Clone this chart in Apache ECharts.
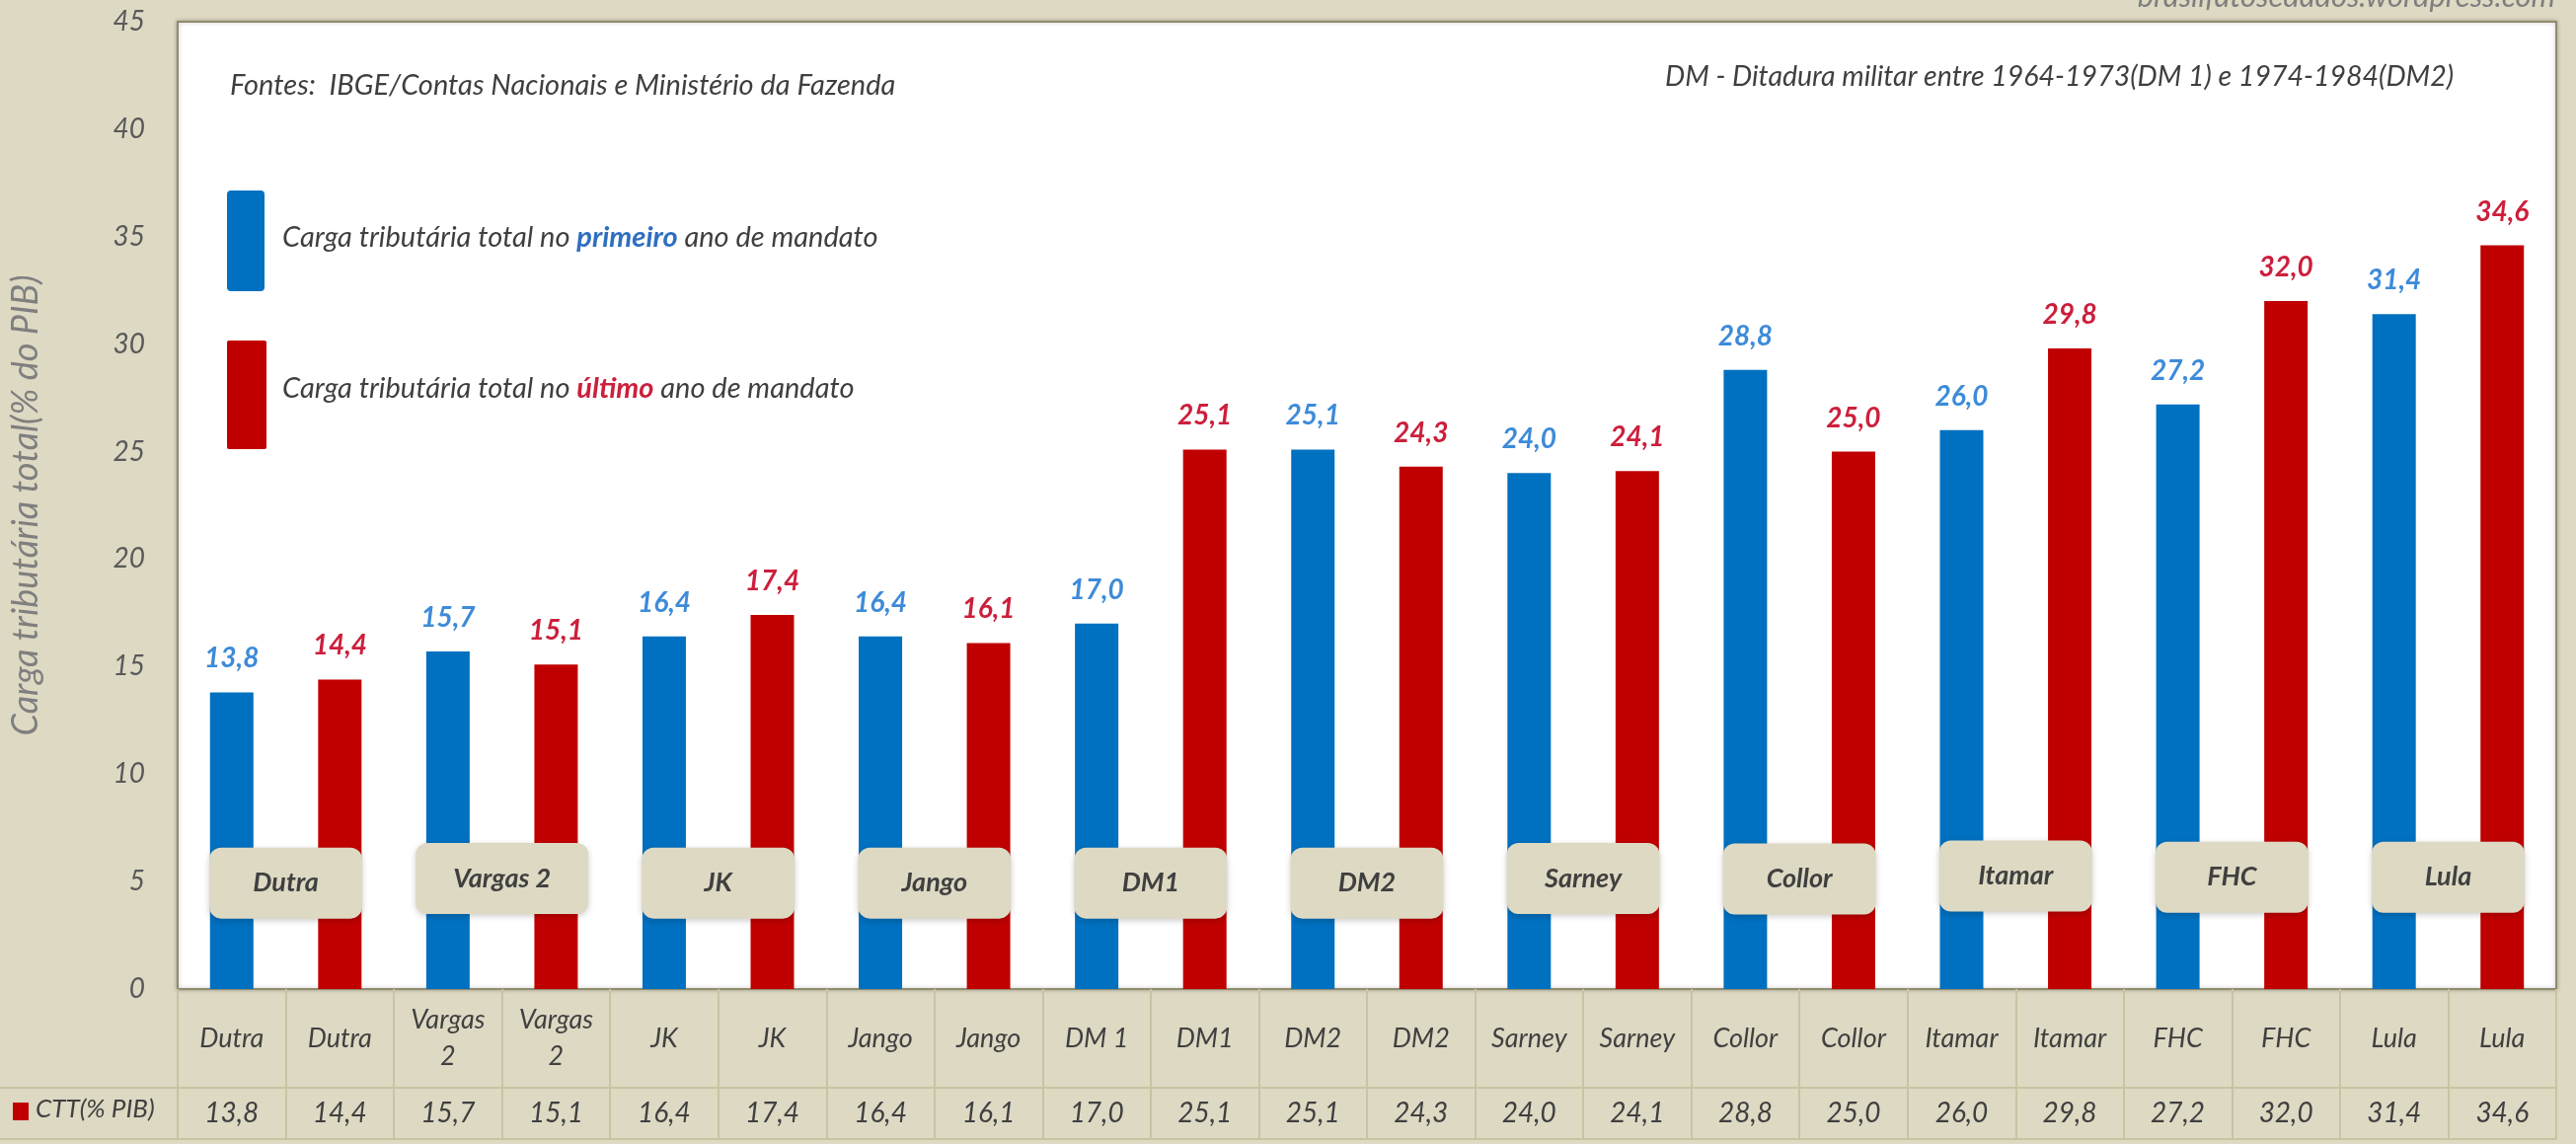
<!DOCTYPE html>
<html>
<head>
<meta charset="utf-8">
<script src="https://cdn.jsdelivr.net/npm/echarts@6/dist/echarts.min.js"></script>
<style>
  html, body { margin: 0; padding: 0; background: #ddd9c3; }
  #main { width: 2610px; height: 1159px; }
</style>
</head>
<body>
<div id="main"></div>
<script>
// categorias (cada governo aparece duas vezes: primeiro e último ano)
var categorias = ['Dutra', 'Dutra', 'Vargas 2', 'Vargas 2', 'JK', 'JK', 'Jango', 'Jango', 'DM 1', 'DM1',
  'DM2', 'DM2', 'Sarney', 'Sarney', 'Collor', 'Collor', 'Itamar', 'Itamar', 'FHC', 'FHC', 'Lula', 'Lula'];
// carga tributária total (% do PIB)
var ctt = [13.8, 14.4, 15.7, 15.1, 16.4, 17.4, 16.4, 16.1, 17.0, 25.1,
  25.1, 24.3, 24.0, 24.1, 28.8, 25.0, 26.0, 29.8, 27.2, 32.0, 31.4, 34.6];
// etiquetas dos governos (caixas sobre as barras) e altura onde ficam
var governos = ['Dutra', 'Vargas 2', 'JK', 'Jango', 'DM1', 'DM2', 'Sarney', 'Collor', 'Itamar', 'FHC', 'Lula'];
var alturaCaixa = [4.93, 5.14, 4.93, 4.93, 4.93, 4.93, 5.14, 5.12, 5.26, 5.2, 5.2];
var yTicks = [0, 5, 10, 15, 20, 25, 30, 35, 40, 45];

var AZUL = '#0070c0', VERMELHO = '#c00000';
var FONTE = 'Lato';

function virgula(v) { return v.toFixed(1).replace('.', ','); }

var myChart = echarts.init(document.getElementById('main'));

var barData = ctt.map(function (v, i) {
  var primeiro = i % 2 === 0;
  return {
    value: v,
    itemStyle: { color: primeiro ? AZUL : VERMELHO },
    label: { color: primeiro ? '#3d8bd9' : '#cc1f3c' }
  };
});

var caixas = alturaCaixa.map(function (y, i) { return [2 * i, y]; });

var option = {
  backgroundColor: '#ddd9c3',
  animation: false,
  textStyle: { fontFamily: FONTE },
  grid: {
    left: 177, right: 20, top: 22, bottom: 157,
    show: true, backgroundColor: '#ffffff', borderColor: '#8f8b6d', borderWidth: 2,
    shadowColor: 'rgba(0,0,0,0.25)', shadowBlur: 4
  },
  xAxis: [{
    type: 'category',
    data: categorias,
    position: 'bottom',
    axisLine: { lineStyle: { color: '#8f8b6d', width: 2 } },
    axisTick: { show: true, interval: 0, length: 152, lineStyle: { color: '#c9c3a3', width: 2 } },
    axisLabel: {
      interval: 0, margin: 50, verticalAlign: 'middle', lineHeight: 37,
      fontSize: 27, fontStyle: 'italic', color: '#404040', fontFamily: FONTE,
      formatter: function (v) { return v === 'Vargas 2' ? 'Vargas\n2' : v; }
    }
  }, {
    type: 'category',
    data: ctt.map(virgula),
    position: 'bottom',
    axisLine: { show: false },
    axisTick: { show: false },
    axisLabel: {
      interval: 0, margin: 126, verticalAlign: 'middle',
      fontSize: 28, fontStyle: 'italic', color: '#404040', fontFamily: FONTE
    }
  }],
  yAxis: {
    type: 'value',
    min: yTicks[0], max: yTicks[yTicks.length - 1], interval: 5,
    name: 'Carga tributária total(% do PIB)',
    nameLocation: 'middle', nameGap: 136, nameRotate: 90,
    nameTextStyle: { fontSize: 36, fontStyle: 'italic', color: '#7f7f7f', fontFamily: FONTE },
    axisLine: { show: true, lineStyle: { color: '#8f8b6d', width: 2 } },
    axisTick: { show: false },
    splitLine: { show: false },
    axisLabel: { margin: 33, fontSize: 28, fontStyle: 'italic', color: '#595959', fontFamily: FONTE }
  },
  series: [{
    name: 'CTT(% PIB)',
    type: 'bar',
    barWidth: 44,
    data: barData,
    label: {
      show: true, position: 'top', distance: 20,
      fontSize: 28, fontWeight: 'bold', fontStyle: 'italic', fontFamily: FONTE,
      formatter: function (p) { return virgula(p.value); }
    }
  }, {
    type: 'custom',
    z: 5,
    data: caixas,
    renderItem: function (params, api) {
      var i = api.value(0), y = api.value(1);
      var p0 = api.coord([i, y]), p1 = api.coord([i + 1, y]);
      var cx = (p0[0] + p1[0]) / 2, cy = p0[1];
      var nome = governos[params.dataIndex];
      var w = Math.max(155, nome.length * 20 + 15), h = 72;
      return {
        type: 'group',
        children: [{
          type: 'rect',
          shape: { x: cx - w / 2, y: cy - h / 2, width: w, height: h, r: 12 },
          style: { fill: '#ddd9c3', shadowBlur: 6, shadowColor: 'rgba(0,0,0,0.2)', shadowOffsetY: 2 }
        }, {
          type: 'text',
          style: {
            text: nome, x: cx, y: cy, align: 'center', verticalAlign: 'middle',
            fontSize: 27, fontWeight: 'bold', fontStyle: 'italic', fontFamily: FONTE, fill: '#404040'
          }
        }]
      };
    }
  }],
  graphic: [
    // marca d'água
    { type: 'text', right: 21, top: -19,
      style: { text: 'brasilfatosedados.wordpress.com', fontSize: 31, fontStyle: 'italic', fontFamily: FONTE, fill: '#7f7f7f' } },
    // fontes e nota
    { type: 'text', left: 233, top: 72,
      style: { text: 'Fontes:  IBGE/Contas Nacionais e Ministério da Fazenda', fontSize: 29, fontStyle: 'italic', fontFamily: FONTE, fill: '#3f3f3f' } },
    { type: 'text', left: 1687, top: 63,
      style: { text: 'DM - Ditadura militar entre 1964-1973(DM 1) e 1974-1984(DM2)', fontSize: 28.5, fontStyle: 'italic', fontFamily: FONTE, fill: '#3f3f3f' } },
    // legenda
    { type: 'rect', left: 230, top: 193, shape: { width: 38, height: 102, r: 4 }, style: { fill: AZUL } },
    { type: 'text', left: 286, top: 226,
      style: {
        text: '{n|Carga tributária total no }{b|primeiro}{n| ano de mandato}',
        rich: {
          n: { fontSize: 29, fontStyle: 'italic', fontFamily: FONTE, fill: '#3f3f3f' },
          b: { fontSize: 29, fontStyle: 'italic', fontWeight: 'bold', fontFamily: FONTE, fill: '#2e6fc0' }
        }
      } },
    { type: 'rect', left: 230, top: 345, shape: { width: 40, height: 110, r: 2 }, style: { fill: VERMELHO } },
    { type: 'text', left: 286, top: 379,
      style: {
        text: '{n|Carga tributária total no }{b|último}{n| ano de mandato}',
        rich: {
          n: { fontSize: 29, fontStyle: 'italic', fontFamily: FONTE, fill: '#3f3f3f' },
          b: { fontSize: 29, fontStyle: 'italic', fontWeight: 'bold', fontFamily: FONTE, fill: '#cc1f3c' }
        }
      } },
    // linhas da tabela
    { type: 'line', shape: { x1: 0, y1: 1102, x2: 2590, y2: 1102 }, style: { stroke: '#c9c3a3', lineWidth: 2 } },
    { type: 'line', shape: { x1: 0, y1: 1154, x2: 2590, y2: 1154 }, style: { stroke: '#c9c3a3', lineWidth: 2 } },
    // chave da série na tabela
    { type: 'rect', left: 13, top: 1117, shape: { width: 16, height: 18 }, style: { fill: VERMELHO } },
    { type: 'text', left: 36, top: 1111,
      style: { text: 'CTT(% PIB)', fontSize: 26, fontStyle: 'italic', fontFamily: FONTE, fill: '#404040' } }
  ]
};

myChart.setOption(option);
</script>
</body>
</html>
